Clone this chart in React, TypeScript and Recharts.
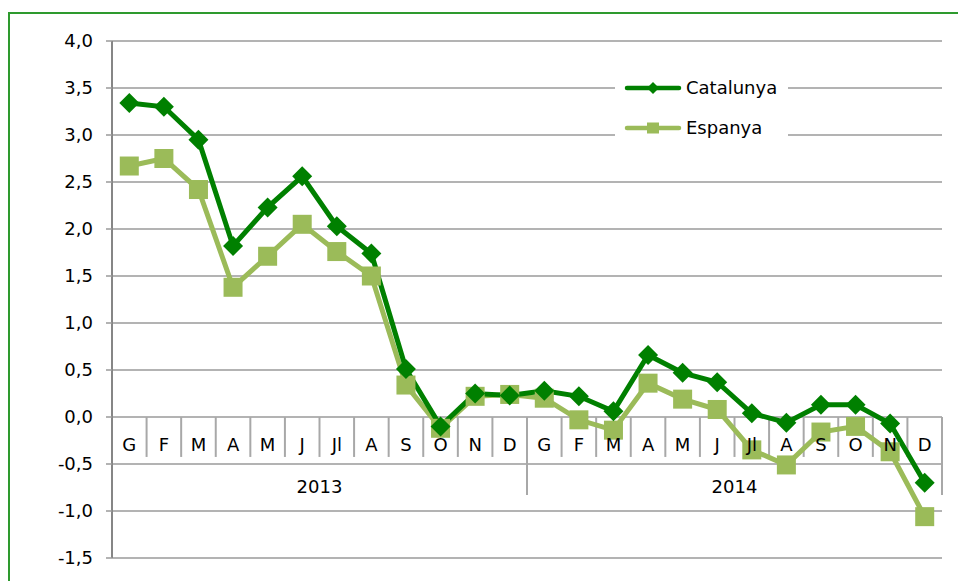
import React from "react";
import {
  LineChart,
  Line,
  XAxis,
  YAxis,
  CartesianGrid,
  Legend,
  ReferenceLine,
  ReferenceDot,
} from "recharts";

const months = ["G", "F", "M", "A", "M", "J", "Jl", "A", "S", "O", "N", "D"];
const years = ["2013", "2014"];
const yTicks = [-1.5, -1, -0.5, 0, 0.5, 1, 1.5, 2, 2.5, 3, 3.5, 4];

const catalunya = [
  3.34, 3.3, 2.95, 1.82, 2.23, 2.56, 2.03, 1.74, 0.51, -0.1, 0.25, 0.23,
  0.28, 0.22, 0.06, 0.66, 0.47, 0.37, 0.04, -0.06, 0.13, 0.13, -0.07, -0.7,
];
const espanya = [
  2.67, 2.75, 2.42, 1.38, 1.71, 2.05, 1.76, 1.5, 0.34, -0.12, 0.22, 0.24,
  0.2, -0.03, -0.14, 0.36, 0.19, 0.08, -0.35, -0.51, -0.16, -0.1, -0.37, -1.06,
];

const DARK = "#008000";
const LIGHT = "#9BBB59";
const GRID = "#9a9a9a";
const SEP = "#a8a8a8";
const FONT = '"DejaVu Sans", sans-serif';
const FS = 18;

const labels = years.flatMap(() => months);
const data = labels.map((m, i) => ({
  x: i + 0.5,
  month: m,
  Catalunya: catalunya[i],
  Espanya: espanya[i],
}));

const Diamond = (props: any) => {
  const { cx, cy } = props;
  if (cx == null || cy == null) return null;
  const r = 10;
  return (
    <polygon
      points={`${cx},${cy - r} ${cx + r},${cy} ${cx},${cy + r} ${cx - r},${cy}`}
      fill={DARK}
    />
  );
};

const Square = (props: any) => {
  const { cx, cy } = props;
  if (cx == null || cy == null) return null;
  const s = 19;
  return <rect x={cx - s / 2} y={cy - s / 2} width={s} height={s} fill={LIGHT} />;
};

const LegendBox = () => (
  <div style={{ position: "relative", width: 173, height: 84, background: "#fff", fontFamily: FONT }}>
    {[
      { name: "Catalunya", color: DARK, top: 12, shape: "diamond" },
      { name: "Espanya", color: LIGHT, top: 52, shape: "square" },
    ].map((it) => (
      <div key={it.name} style={{ position: "absolute", left: 8, top: it.top, height: 20, display: "flex", alignItems: "center" }}>
        <svg width={60} height={20}>
          <line x1={4} y1={10} x2={56} y2={10} stroke={it.color} strokeWidth={4.5} strokeLinecap="round" />
          {it.shape === "diamond" ? (
            <polygon points="30,4 36,10 30,16 24,10" fill={it.color} />
          ) : (
            <rect x={24} y={4.5} width={12} height={11} fill={it.color} />
          )}
        </svg>
        <span style={{ fontSize: FS, color: "#000", marginLeft: 3, lineHeight: "20px" }}>{it.name}</span>
      </div>
    ))}
  </div>
);

const fmt = (v: number) => v.toFixed(1).replace(".", ",");

export default function App() {
  const separators = Array.from({ length: 25 }, (_, i) => i);
  return (
    <div
      style={{
        position: "absolute",
        left: 0,
        top: 0,
        width: 958,
        height: 581,
        overflow: "hidden",
        background: "#fff",
      }}
    >
      <div
        style={{
          position: "absolute",
          left: 8,
          top: 12,
          width: 1000,
          height: 620,
          border: "2px solid #2e9a2e",
          boxSizing: "border-box",
        }}
      />
      <div style={{ position: "absolute", left: 0, top: 0 }}>
        <LineChart
          width={958}
          height={581}
          data={data}
          margin={{ top: 41, right: 16, bottom: 23, left: 0 }}
        >
          <CartesianGrid horizontal vertical={false} stroke={GRID} strokeWidth={1.5} />
          <XAxis type="number" dataKey="x" domain={[0, 24]} hide />
          <YAxis
            type="number"
            domain={[-1.5, 4]}
            ticks={yTicks}
            width={112}
            interval={0}
            axisLine={{ stroke: "#868686", strokeWidth: 2 }}
            tickLine={{ stroke: GRID, strokeWidth: 1.5 }}
            tickSize={6}
            tickMargin={13}
            tickFormatter={fmt}
            tick={{ fill: "#000", fontSize: FS, fontFamily: FONT }}
          />
          {separators.map((i) => (
            <ReferenceLine
              key={`sep-${i}`}
              segment={[
                { x: i, y: 0 },
                { x: i, y: i % 12 === 0 ? -0.83 : -0.425 },
              ]}
              stroke={SEP}
              strokeWidth={2}
              ifOverflow="visible"
            />
          ))}
          {data.map((d, i) => (
            <ReferenceDot
              key={`m-${i}`}
              x={d.x}
              y={-0.29}
              r={0}
              fill="none"
              stroke="none"
              ifOverflow="visible"
              label={{ value: d.month, position: "center", fill: "#000", fontSize: FS, fontFamily: FONT }}
            />
          ))}
          {years.map((y, k) => (
            <ReferenceDot
              key={`y-${y}`}
              x={k * 12 + 6}
              y={-0.74}
              r={0}
              fill="none"
              stroke="none"
              ifOverflow="visible"
              label={{ value: y, position: "center", fill: "#000", fontSize: FS, fontFamily: FONT }}
            />
          ))}
          <Line
            type="linear"
            dataKey="Espanya"
            stroke={LIGHT}
            strokeWidth={5}
            dot={<Square />}
            activeDot={false}
            isAnimationActive={false}
          />
          <Line
            type="linear"
            dataKey="Catalunya"
            stroke={DARK}
            strokeWidth={5}
            dot={<Diamond />}
            activeDot={false}
            isAnimationActive={false}
          />
          <Legend
            layout="vertical"
            align="center"
            verticalAlign="middle"
            content={<LegendBox />}
            wrapperStyle={{ position: "absolute", left: 615, top: 66, width: 173, height: 84 }}
          />
        </LineChart>
      </div>
    </div>
  );
}
